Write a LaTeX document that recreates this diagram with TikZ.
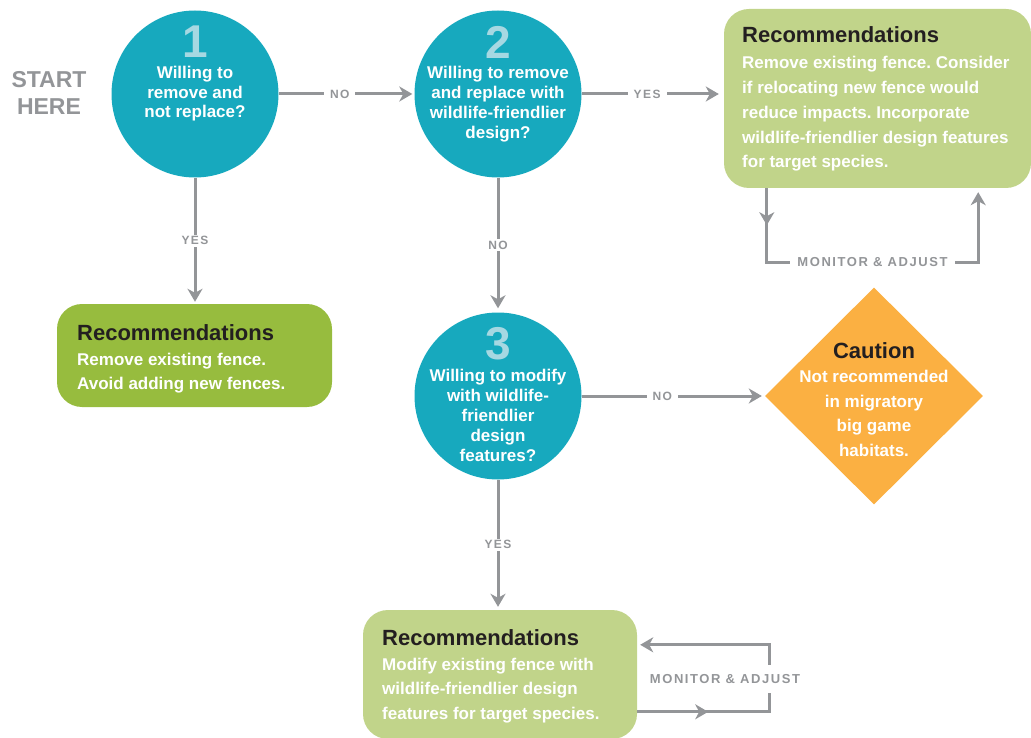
\documentclass[tikz,border=0pt]{standalone}
\usepackage{fontspec}
\setmainfont{Liberation Sans}
\newfontfamily\trackfont{Liberation Sans}[LetterSpace=12]
\newfontfamily\labelfont{Liberation Sans}[LetterSpace=12]
\usetikzlibrary{arrows.meta,calc,shapes.geometric}
\frenchspacing

\definecolor{qteal}{RGB}{23,169,190}
\definecolor{qnum}{RGB}{166,216,226}
\definecolor{gdark}{RGB}{151,188,62}
\definecolor{glight}{RGB}{193,212,138}
\definecolor{qorange}{RGB}{251,176,66}
\definecolor{qgray}{RGB}{147,149,152}
\definecolor{qtitle}{RGB}{35,31,32}

% multi-line nodes are placed by the baseline of their last line
\tikzset{
  question/.style={circle, fill=qteal, minimum size=167pt, inner sep=0pt},
  num/.style={anchor=base, inner sep=0pt, text=qnum, font=\fontsize{46}{46}\selectfont\bfseries},
  qtext/.style={anchor=base, align=center, inner sep=0pt, text=white, font=\fontsize{17}{20}\selectfont\bfseries},
  recbox/.style={rectangle, rounded corners=25pt, inner sep=0pt},
  rtitle/.style={anchor=base west, inner sep=0pt, text=qtitle, font=\fontsize{22}{22}\selectfont\bfseries},
  rbody/.style={anchor=base west, align=left, inner sep=0pt, text=white, font=\fontsize{17}{24.6}\selectfont\bfseries},
  flow/.style={draw=qgray, line width=3pt, -{Stealth[length=13pt,width=15pt,inset=4pt]}},
  lbl/.style={fill=white, text=qgray, inner xsep=6pt, inner ysep=2pt, font=\labelfont\fontsize{12}{12}\selectfont\bfseries},
  loopnote/.style={fill=white, text=qgray, inner xsep=7pt, inner ysep=3pt, font=\trackfont\fontsize{13}{13}\selectfont\bfseries}
}

\begin{document}
\begin{tikzpicture}[x=1pt, y=-1pt]
\useasboundingbox (0,0) rectangle (1031,738);

% start marker
\node[anchor=base, align=center, inner sep=0pt, text=qgray, font=\fontsize{23}{27}\selectfont\bfseries] (start) at (49,115) {START\\HERE};

% question circles
\node[question] (c1) at (195,94) {};
\node[num] (n1) at (195,57.5) {1};
\node[qtext, font=\fontsize{17}{19.5}\selectfont\bfseries] (t1) at (195,118) {Willing to\\remove and\\not replace?};

\node[question] (c2) at (498,94) {};
\node[num] (n2) at (498,59) {2};
\node[qtext] (t2) at (498,139) {Willing to remove\\and replace with\\wildlife-friendlier\\design?};

\node[question] (c3) at (498,396) {};
\node[num] (n3) at (498,359.5) {3};
\node[qtext] (t3) at (498,461) {Willing to modify\\with wildlife-\\friendlier\\design\\features?};

% recommendation boxes
\node[recbox, fill=glight, minimum width=307pt, minimum height=179pt] (r1) at (877.5,98.5) {};
\node[rtitle] (r1t) at (742,43) {Recommendations};
\node[rbody, font=\fontsize{17}{24.75}\selectfont\bfseries] (r1b) at (742,168) {Remove existing fence. Consider\\if relocating new fence would\\reduce impacts. Incorporate\\wildlife-friendlier design features\\for target species.};

\node[recbox, fill=gdark, minimum width=275pt, minimum height=103pt] (r2) at (194.5,355.5) {};
\node[rtitle] (r2t) at (77,340) {Recommendations};
\node[rbody, font=\fontsize{17}{24}\selectfont\bfseries] (r2b) at (77,389) {Remove existing fence.\\Avoid adding new fences.};

\node[recbox, fill=glight, minimum width=274pt, minimum height=129pt] (r3) at (500,674.5) {};
\node[rtitle] (r3t) at (382,645) {Recommendations};
\node[rbody, font=\fontsize{17}{24.5}\selectfont\bfseries] (r3b) at (382,719) {Modify existing fence with\\wildlife-friendlier design\\features for target species.};

% caution diamond
\node[diamond, fill=qorange, minimum width=218pt, minimum height=217pt, inner sep=0pt] (d) at (874,396) {};
\node[anchor=base, inner sep=0pt, text=qtitle, font=\fontsize{22}{22}\selectfont\bfseries] (dt) at (874,358) {Caution};
\node[anchor=base, align=center, inner sep=0pt, text=white, font=\fontsize{17}{24.4}\selectfont\bfseries] (db) at (874,456) {Not recommended\\in migratory\\big game\\habitats.};

% decision connectors
\draw[flow, shorten >=2pt] (c1.east) -- node[lbl, pos=0.45] (l1) {NO} (c2.west);
\draw[flow, shorten >=5pt] (c2.east) -- node[lbl, pos=0.46] (l2) {YES} (c2.east -| r1.west);
\draw[flow, shorten >=2pt] (c1.south) -- node[lbl] (l3) {YES} (c1.south |- r2.north);
\draw[flow, shorten >=4pt] (c2.south) -- node[lbl] (l4) {NO} (c3.north);
\draw[flow, shorten >=3pt] (c3.east) -- node[lbl, pos=0.44] (l5) {NO} (d.west);
\draw[flow, shorten >=3pt] (c3.south) -- node[lbl] (l6) {YES} (c3.south |- r3.north);

% monitoring loop, upper box
\coordinate (m1a) at ($(r1.south west)+(43,0)$);
\coordinate (m1b) at ($(r1.south east)+(-53,0)$);
\draw[flow] (m1a) -- ++(0,37);
\draw[flow, shorten >=4pt] (m1a) -- ++(0,74) -| node[loopnote, pos=0.25] (ma1) {MONITOR \& ADJUST} (m1b);

% monitoring loop, lower box
\coordinate (m2a) at ($(r3.north east)+(0,102)$);
\coordinate (m2b) at ($(r3.north east)+(0,35)$);
\draw[flow] (m2a) -- ++(71,0);
\draw[flow, shorten >=3pt] (m2a) -- ++(132,0) |- (m2b);
\node[loopnote, inner ysep=9pt, inner xsep=2pt] (ma2) at (725,679) {MONITOR \& ADJUST};
\end{tikzpicture}
\end{document}
